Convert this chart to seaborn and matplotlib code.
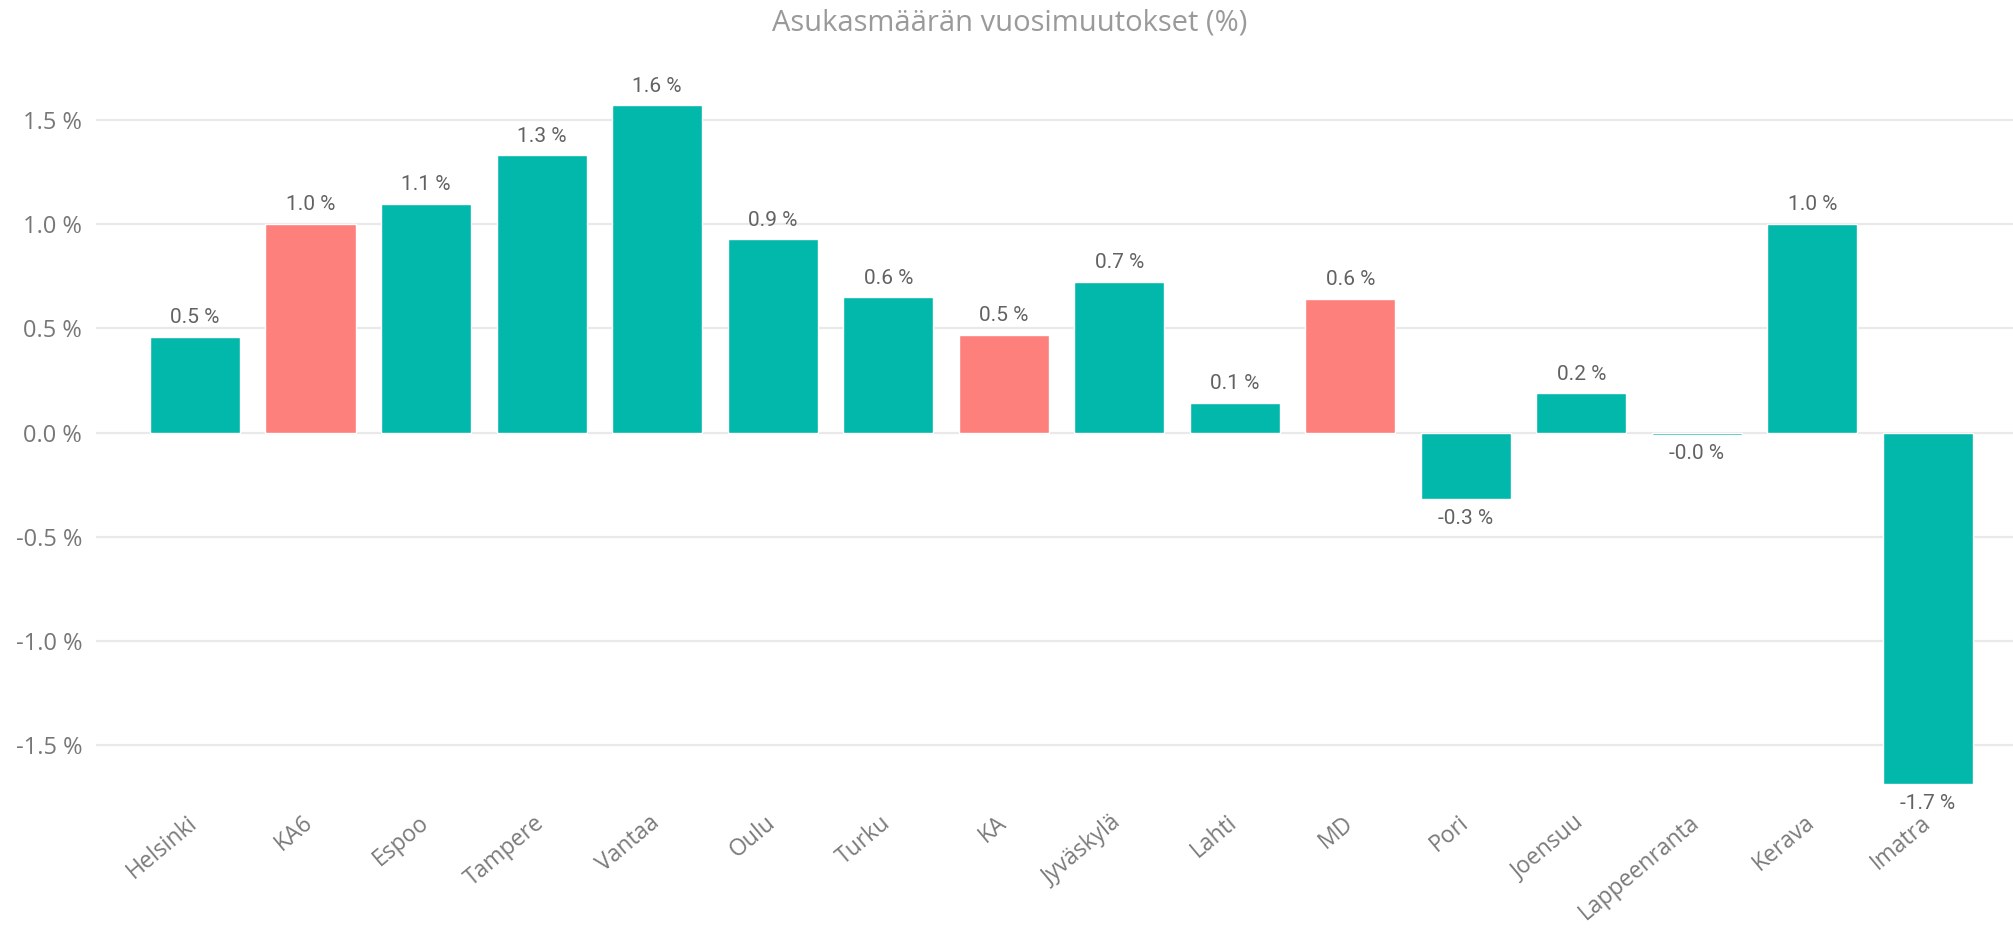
import matplotlib
matplotlib.use("Agg")
import matplotlib.pyplot as plt
import matplotlib.transforms as mtransforms
import seaborn as sns
import pandas as pd

categories = ["Helsinki", "KA6", "Espoo", "Tampere", "Vantaa", "Oulu", "Turku", "KA",
              "Jyväskylä", "Lahti", "MD", "Pori", "Joensuu", "Lappeenranta", "Kerava", "Imatra"]
values = [0.457, 1.00, 1.096, 1.329, 1.568, 0.926, 0.648, 0.469,
          0.722, 0.142, 0.640, -0.320, 0.187, -0.01, 1.00, -1.687]
highlight = ["KA6", "KA", "MD"]
yticks = [-1.5, -1.0, -0.5, 0.0, 0.5, 1.0, 1.5]
title = "Asukasmäärän vuosimuutokset (%)"

TEAL = "#01B8AA"
SALMON = "#FD807C"

sns.set_theme(style="white")
plt.rcParams['font.family'] = ['Open Sans', 'DejaVu Sans']

df = pd.DataFrame({"cat": categories, "val": values})
palette = {c: (SALMON if c in highlight else TEAL) for c in categories}

fig = plt.figure(figsize=(20.13, 9.39), dpi=100)
ax = fig.add_axes([96/2013, 1-808/939, 1-96/2013, (808-57)/939])

sns.barplot(data=df, x="cat", y="val", hue="cat", palette=palette, width=0.78,
            legend=False, ax=ax, saturation=1, order=categories, hue_order=categories)

ax.set_xlim(-0.857, 15.736)
ax.set_ylim(-1.80, 1.80)
ax.set_yticks(yticks)
ax.set_yticklabels([f"{t:.1f} %" for t in yticks], fontsize=17, color="#777777")
ax.yaxis.grid(True, color="#E9E9E9", linewidth=1.6)
ax.set_axisbelow(True)
for s in ax.spines.values():
    s.set_visible(False)
ax.tick_params(axis="y", length=0, pad=10)
ax.tick_params(axis="x", length=0, pad=2)
ax.set_xlabel("")
ax.set_ylabel("")
ax.set_xticks(range(len(categories)))
ax.set_xticklabels(categories, rotation=40, ha="right", rotation_mode="anchor",
                   fontsize=16.5, color="#7a7a7a")
offset = mtransforms.ScaledTranslation(-8/100, 0, fig.dpi_scale_trans)
for lab in ax.get_xticklabels():
    lab.set_transform(lab.get_transform() + offset)

for cont in ax.containers:
    labs = [f"{v:.1f} %" for v in cont.datavalues]
    ax.bar_label(cont, labels=labs, padding=7, fontsize=15, color="#626262",
                 family=["Roboto", "DejaVu Sans"], fontweight="normal")

fig.text(1010/2013, 1-23/939, title, ha="center", va="center", fontsize=21, color="#9a9a9a")

fig.savefig("out.png", dpi=100, facecolor="white")
